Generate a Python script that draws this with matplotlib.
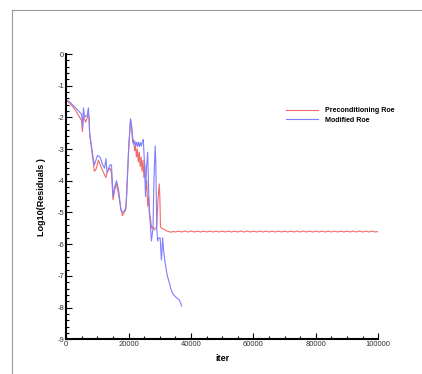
"""Residual convergence history: Preconditioning Roe vs Modified Roe."""

import matplotlib
matplotlib.use("Agg")
import matplotlib.pyplot as plt
from matplotlib.lines import Line2D
from matplotlib.ticker import MultipleLocator

plt.rcParams["font.family"] = ["Liberation Sans", "DejaVu Sans"]
plt.rcParams["axes.unicode_minus"] = False

# Preconditioning Roe residual history
red_iter = [0, 1000, 2000, 3000, 4000, 4900, 5200, 5400, 5800, 6200, 6600, 7000,
            7300, 7500, 8000, 8500, 9000, 9500, 10300, 11300, 12000, 12700, 13200,
            14000, 14500, 15000, 15500, 16100, 16800, 17500, 18000, 18600, 19100,
            19400, 20000, 20600, 21000, 21300, 21600, 21900, 22200, 22500, 22800,
            23100, 23400, 23700, 24000, 24300, 24600, 24900, 25200, 25500, 25800,
            26100, 26400, 26700, 27000, 27400, 27800, 28200, 28600, 29000, 29400,
            29800, 30000, 30200, 30600, 31100, 31600, 32200, 32800, 33500, 34300,
            35000, 36000, 37000, 38000, 39000, 40000, 41000, 42000, 43000, 44000,
            45000, 46000, 47000, 48000, 49000, 50000, 51000, 52000, 53000, 54000,
            55000, 56000, 57000, 58000, 59000, 60000, 61000, 62000, 63000, 64000,
            65000, 66000, 67000, 68000, 69000, 70000, 71000, 72000, 73000, 74000,
            75000, 76000, 77000, 78000, 79000, 80000, 81000, 82000, 83000, 84000,
            85000, 86000, 87000, 88000, 89000, 90000, 91000, 92000, 93000, 94000,
            95000, 96000, 97000, 98000, 99000, 100000]
red_res = [-1.45, -1.55, -1.65, -1.78, -1.95, -2.1, -2.45, -2.0, -2.05, -2.15, -2.05,
           -1.9, -2.0, -2.55, -2.9, -3.3, -3.7, -3.65, -3.35, -3.6, -3.75, -3.9, -3.7,
           -3.6, -3.75, -4.6, -4.3, -4.1, -4.45, -4.9, -5.1, -5.0, -4.9, -4.4, -3.0,
           -2.05, -2.4, -2.8, -2.7, -3.05, -2.9, -3.25, -3.0, -3.4, -3.1, -3.55, -3.25,
           -3.7, -3.35, -3.9, -3.5, -4.3, -4.0, -4.8, -4.5, -5.0, -5.2, -5.5, -5.45,
           -5.55, -5.5, -5.45, -4.6, -4.1, -4.5, -5.45, -5.5, -5.52, -5.55, -5.58,
           -5.6, -5.62, -5.6,
           -5.615, -5.585, -5.615, -5.585, -5.615, -5.585, -5.615, -5.585, -5.615,
           -5.585, -5.615, -5.585, -5.615, -5.585, -5.615, -5.585, -5.615, -5.585,
           -5.615, -5.585, -5.615, -5.585, -5.615, -5.585, -5.615, -5.585, -5.615,
           -5.585, -5.615, -5.585, -5.615, -5.585, -5.615, -5.585, -5.615, -5.585,
           -5.615, -5.585, -5.615, -5.585, -5.615, -5.585, -5.615, -5.585, -5.615,
           -5.585, -5.615, -5.585, -5.615, -5.585, -5.615, -5.585, -5.615, -5.585,
           -5.615, -5.585, -5.615, -5.585, -5.615, -5.585, -5.615, -5.585, -5.615,
           -5.585, -5.615, -5.6]

# Modified Roe residual history
blue_iter = [0, 1000, 2000, 3000, 4000, 4900, 5300, 5500, 5900, 6300, 6700, 7100,
             7300, 7500, 8000, 8500, 9000, 9500, 10000, 10800, 11700, 12300, 12700,
             13100, 13600, 14000, 14500, 15000, 15500, 16100, 16800, 17500, 18000,
             18600, 19100, 19400, 20000, 20600, 21000, 21400, 21700, 22000, 22300,
             22600, 22900, 23200, 23500, 23800, 24100, 24400, 24700, 25100, 25400,
             25700, 26100, 26600, 26900, 27300, 27800, 28100, 28500, 28700, 29000,
             29300, 29700, 30100, 30500, 30900, 31200, 31700, 32400, 33000, 33800,
             34500, 35400, 36200, 37000]
blue_res = [-1.45, -1.5, -1.6, -1.7, -1.8, -1.9, -2.3, -1.7, -2.0, -1.95, -1.95, -1.7,
            -2.0, -2.5, -2.85, -3.2, -3.5, -3.35, -3.2, -3.25, -3.5, -3.6, -3.3, -3.75,
            -3.6, -3.5, -3.5, -4.5, -4.2, -4.0, -4.3, -4.9, -5.0, -4.95, -4.85, -4.3,
            -3.0, -2.05, -2.3, -2.75, -2.85, -2.75, -2.9, -2.78, -2.92, -2.78, -2.92,
            -2.8, -2.9, -2.75, -2.7, -3.5, -4.5, -3.6, -3.1, -5.0, -5.3, -5.9, -5.5,
            -4.0, -2.9, -3.4, -5.5, -5.9, -5.8, -5.8, -6.5, -5.8, -6.2, -6.6, -7.0,
            -7.2, -7.5, -7.6, -7.7, -7.75, -7.95]

fig = plt.figure(figsize=(4.22, 3.74), dpi=100)
ax = fig.add_axes([0.157, 0.0928, 0.7393, 0.7628])

ax.plot(red_iter, red_res, color="#ee6a6a", linewidth=0.8,
        label="Preconditioning Roe")
ax.plot(blue_iter, blue_res, color="#7f7fff", linewidth=0.8,
        label="Modified Roe")

ax.set_xlim(0, 100000)
ax.set_ylim(-9, 0)
ax.xaxis.set_major_locator(MultipleLocator(20000))
ax.xaxis.set_minor_locator(MultipleLocator(5000))
ax.yaxis.set_major_locator(MultipleLocator(1))
ax.yaxis.set_minor_locator(MultipleLocator(0.2))
ax.tick_params(which="both", direction="in", labelsize=5.5, colors="black",
               labelcolor="#333333", width=0.8, pad=1.5)
ax.tick_params(which="major", length=4)
ax.tick_params(which="minor", length=2)

for side in ("top", "right"):
    ax.spines[side].set_visible(False)
for side in ("left", "bottom"):
    ax.spines[side].set_linewidth(1.5)

ax.set_xlabel("iter", fontsize=6.5, fontweight="bold", labelpad=4)
ax.set_ylabel("Log10(Residuals )", fontsize=6.5, fontweight="bold", labelpad=8)

ax.legend(loc="upper left", bbox_to_anchor=(0.685, 0.835), frameon=False,
          prop={"weight": "bold", "size": 5.1},
          handlelength=4.5, handletextpad=1.0, labelspacing=0.35)

# page border of the original screenshot
fig.add_artist(Line2D([12 / 422, 1], [1 - 10 / 374, 1 - 10 / 374],
                      color="#999999", linewidth=0.8))
fig.add_artist(Line2D([12 / 422, 12 / 422], [0, 1 - 10 / 374],
                      color="#999999", linewidth=0.8))

fig.savefig("out.png", dpi=100)
